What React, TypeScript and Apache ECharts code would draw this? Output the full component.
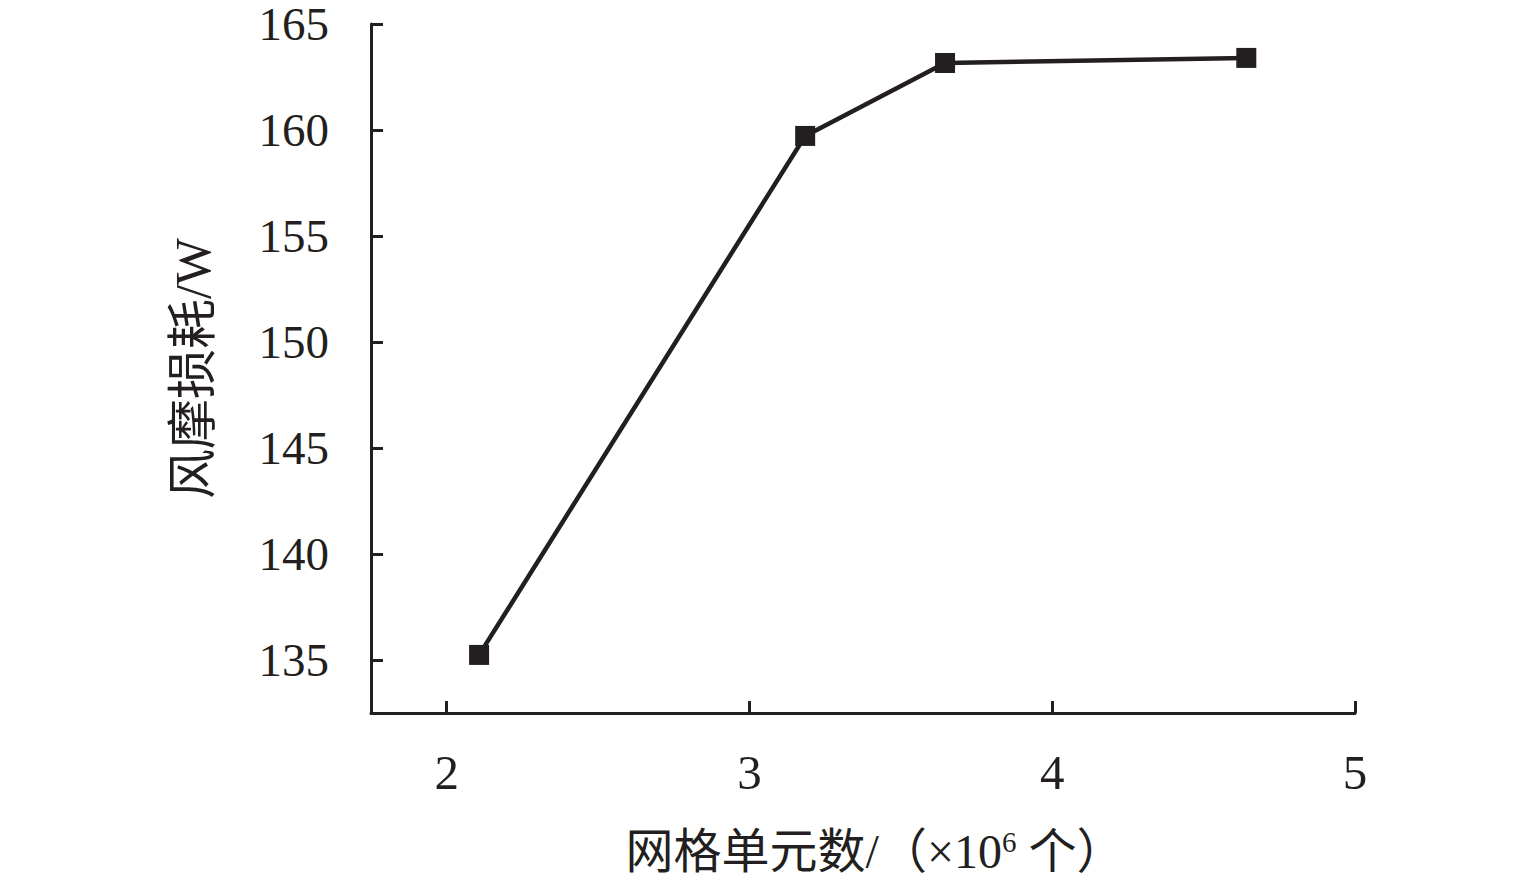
import React, { useEffect, useRef } from "react";
import * as echarts from "echarts";

const xValues = [2.107, 3.184, 3.646, 4.641];
const yValues = [135.24, 159.72, 163.16, 163.4];
const xTicks = [2, 3, 4, 5];
const yTicks = [135, 140, 145, 150, 155, 160, 165];
const xName = "网格单元数/（×10";
const xNameSup = "6";
const xNameEnd = " 个）";
const yName = "风摩损耗/W";

const ink = "#231f20";
const fontFamily = '"Liberation Serif", "Times New Roman", "Noto Sans CJK SC", serif';

export default function App() {
  const ref = useRef<HTMLDivElement>(null);
  useEffect(() => {
    if (!ref.current) return;
    const chart = echarts.init(ref.current, undefined, { renderer: "svg" });
    chart.setOption({
      animation: false,
      backgroundColor: "#ffffff",
      grid: { left: 371, top: 24, right: 180, bottom: 179, containLabel: false },
      xAxis: {
        type: "value",
        min: 1.75,
        max: 5,
        splitLine: { show: false },
        axisLine: { show: true, lineStyle: { color: ink, width: 3 } },
        axisTick: { show: true, inside: true, length: 12, customValues: xTicks, lineStyle: { color: ink, width: 3 } },
        axisLabel: { customValues: xTicks, margin: 35, fontSize: 49, color: ink, fontFamily },
        name: `{a|${xName}}{s|${xNameSup}}{a|${xNameEnd}}`,
        nameLocation: "middle",
        nameGap: 114,
        nameTextStyle: {
          padding: [0, 0, 0, 24],
          rich: {
            a: { fontSize: 48, color: ink, fontFamily },
            s: { fontSize: 29, color: ink, fontFamily, verticalAlign: "top", padding: [0, 0, 20, 0] },
          },
        },
      },
      yAxis: {
        type: "value",
        min: 132.5,
        max: 165,
        splitLine: { show: false },
        axisLine: { show: true, lineStyle: { color: ink, width: 3 } },
        axisTick: { show: true, inside: true, length: 12, customValues: yTicks, lineStyle: { color: ink, width: 3 } },
        axisLabel: { customValues: yTicks, margin: 42, fontSize: 47, lineHeight: 40, color: ink, fontFamily },
        name: yName,
        nameLocation: "middle",
        nameGap: 153,
        nameTextStyle: { fontSize: 50, color: ink, fontFamily },
      },
      series: [
        {
          type: "line",
          data: xValues.map((x, i) => [x, yValues[i]]),
          symbol: "rect",
          symbolSize: 20,
          lineStyle: { color: ink, width: 4.5 },
          itemStyle: { color: ink },
          z: 3,
        },
      ],
    });
    return () => chart.dispose();
  }, []);
  return (
    <div
      ref={ref}
      style={{ position: "absolute", left: 0, top: 0, width: 1535, height: 892 }}
    />
  );
}
